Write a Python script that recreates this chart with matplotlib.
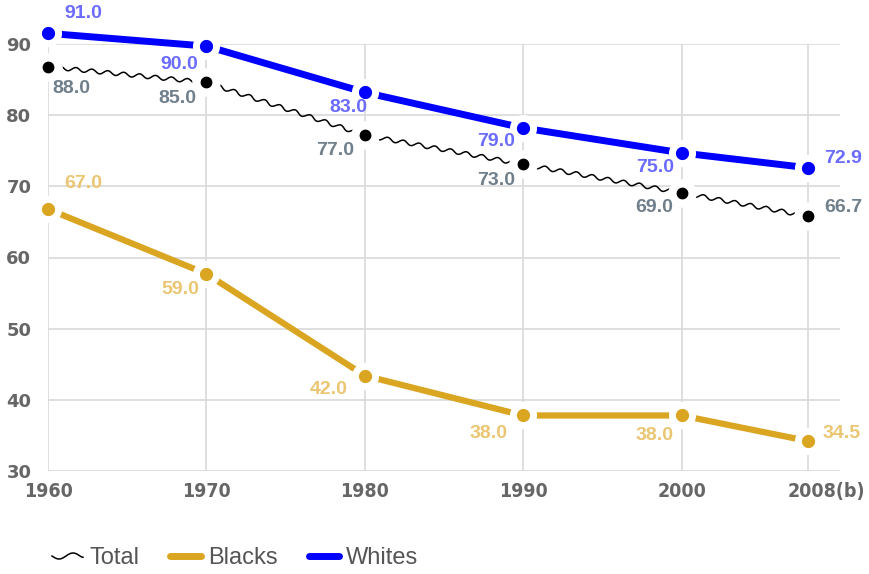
import matplotlib
matplotlib.use("Agg")
import matplotlib.pyplot as plt
import matplotlib.transforms as mtransforms
from matplotlib.lines import Line2D

years = [1960, 1970, 1980, 1990, 2000, 2008]
xtick_labels = ["1960", "1970", "1980", "1990", "2000", "2008(b)"]
yticks = [30, 40, 50, 60, 70, 80, 90]

whites = [91.5, 89.7, 83.2, 78.2, 74.7, 72.6]
total = [86.8, 84.6, 77.2, 73.1, 69.1, 65.8]
blacks = [66.8, 57.7, 43.4, 37.8, 37.8, 34.2]

whites_labels = ["91.0", "90.0", "83.0", "79.0", "75.0", "72.9"]
total_labels = ["88.0", "85.0", "77.0", "73.0", "69.0", "66.7"]
blacks_labels = ["67.0", "59.0", "42.0", "38.0", "38.0", "34.5"]

BLUE = "#0000ff"
GOLD = "#DAA520"
BLUE_L = "#6b6bff"
GOLD_L = "#ebc672"
SLATE = "#6f7f8b"
GRID = "#d9d9d9"
TICK = "#666666"

fig = plt.figure(figsize=(8.69, 5.74), dpi=100)
ax = fig.add_axes([48/869, 1-471/574, (840-48)/869, (471-44)/574])
ax.set_xlim(1960, 2010)
ax.set_ylim(30, 90)
for s in ax.spines.values():
    s.set_visible(False)
ax.set_xticks(years)
ax.set_yticks(yticks)
ax.grid(True, color=GRID, linewidth=1.2)
ax.set_axisbelow(True)
ax.tick_params(length=0)
ax.set_xticklabels(xtick_labels, family="DejaVu Sans", fontstretch="condensed",
                   fontweight="bold", fontsize=14, color=TICK)
ax.set_yticklabels([str(v) for v in yticks], family="DejaVu Sans",
                   fontweight="bold", fontsize=13, color=TICK)
ax.tick_params(axis="x", pad=8)
ax.tick_params(axis="y", pad=12)
lastlab = ax.get_xticklabels()[-1]
lastlab.set_transform(lastlab.get_transform() +
                      mtransforms.ScaledTranslation(18/100, 0, fig.dpi_scale_trans))

# Total (wavy)
lt, = ax.plot(years, total, color="black", lw=1.1, zorder=3, clip_on=False)
lt.set_sketch_params(scale=2, length=16, randomness=1)
ax.plot(years, total, ls="none", marker="o", ms=14.5, mfc="black", mec="white",
        mew=6, zorder=4, clip_on=False)
# Blacks
ax.plot(years, blacks, color=GOLD, lw=4.5, solid_capstyle="butt", zorder=3,
        clip_on=False)
ax.plot(years, blacks, ls="none", marker="o", ms=14.5, mfc=GOLD, mec="white",
        mew=5, zorder=4, clip_on=False)
# Whites
ax.plot(years, whites, color=BLUE, lw=5, solid_capstyle="butt", zorder=3,
        clip_on=False)
ax.plot(years, whites, ls="none", marker="o", ms=14.5, mfc=BLUE, mec="white",
        mew=5, zorder=4, clip_on=False)

lab_font = dict(family=["Liberation Sans", "DejaVu Sans"], fontweight="bold",
                fontsize=14, ha="center", va="center")

w_off = [(35, 20), (-27, -18), (-16, -15), (-27, -14), (-26, -15), (35, 9)]
t_off = [(23, -22), (-29, -16), (-30, -15), (-27, -16), (-27, -15), (35, 9)]
b_off = [(35, 26), (-26, -16), (-36, -14), (-35, -18), (-27, -20), (33, 8)]

for vals, labs, offs, col in [(whites, whites_labels, w_off, BLUE_L),
                              (total, total_labels, t_off, SLATE),
                              (blacks, blacks_labels, b_off, GOLD_L)]:
    for x, y, l, o in zip(years, vals, labs, offs):
        ax.annotate(l, (x, y), xytext=o, textcoords="offset pixels",
                    color=col, annotation_clip=False, zorder=5, **lab_font)

h_total = Line2D([], [], color="black", lw=1.1)
h_total.set_sketch_params(scale=3, length=28, randomness=1)
h_black = Line2D([], [], color=GOLD, lw=5, solid_capstyle="round")
h_white = Line2D([], [], color=BLUE, lw=5, solid_capstyle="round")
leg = fig.legend([h_total, h_black, h_white], ["Total", "Blacks", "Whites"],
                 loc="center left", bbox_to_anchor=(52/869, 1-558/574), ncol=3,
                 frameon=False, handlelength=1.3, handletextpad=0.3,
                 columnspacing=1.3, borderaxespad=0, borderpad=0,
                 prop=dict(family=["Liberation Sans", "DejaVu Sans"], size=17))
for t in leg.get_texts():
    t.set_color("#555555")

fig.savefig("out.png", dpi=100)
